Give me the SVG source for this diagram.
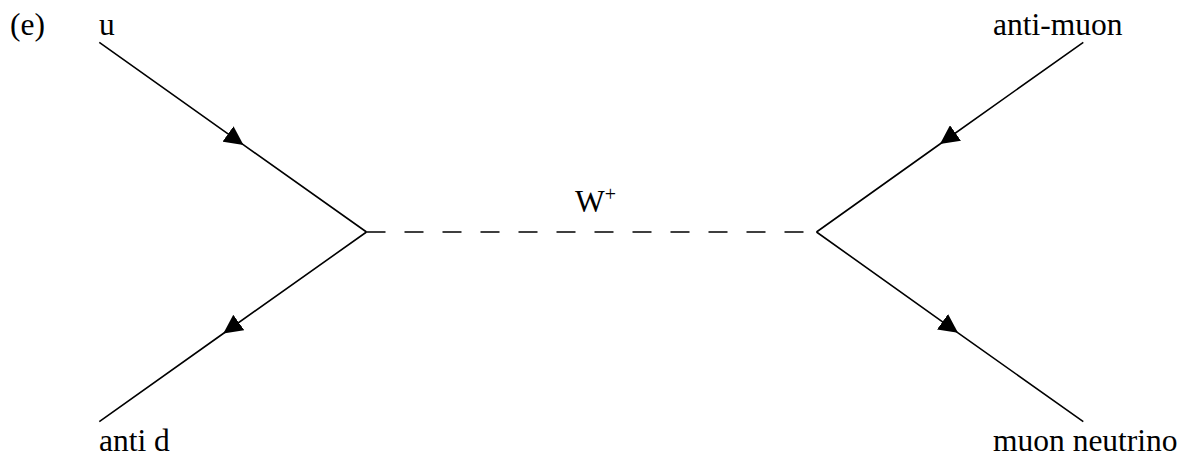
<svg xmlns="http://www.w3.org/2000/svg" width="1186" height="457" viewBox="0 0 1186 457">
<style>
.t{font-family:'Liberation Serif','Times New Roman',Times,serif;font-size:31.5px;fill:#000}
.f{fill:none;stroke:#000;stroke-width:1.6}
.w{fill:none;stroke:#000;stroke-width:1.6;stroke-dasharray:19 19}
</style>
<defs>
<marker id="arr" viewBox="0 0 19 19" refX="19" refY="9.5" markerWidth="19" markerHeight="19" markerUnits="userSpaceOnUse" orient="auto">
<path d="M0,0 L19,9.5 L0,19 z" fill="#000"/>
</marker>
</defs>
<text class="t" font-family="Liberation Serif, serif" x="10" y="35">(e)</text>
<g id="connectors">
<path class="f" d="M99.3,42.3 L243.5,144.9 L366.5,232" marker-mid="url(#arr)"/>
<path class="f" d="M366.5,232 L223.3,333.5 L99.3,421.7" marker-mid="url(#arr)"/>
<path class="f" d="M1083.3,42.3 L940,144 L816.5,232" marker-mid="url(#arr)"/>
<path class="f" d="M816.5,232 L958,332.8 L1083.3,421.7" marker-mid="url(#arr)"/>
<path class="w" d="M366.5,232 L816.5,232"/>
</g>
<g id="u"><text class="t" x="99" y="35">u</text></g>
<g id="antid"><text class="t" x="99" y="451">anti d</text></g>
<g id="antimuon"><text class="t" x="993" y="35">anti-muon</text></g>
<g id="neutrino"><text class="t" x="993" y="451">muon neutrino</text></g>
<g id="W"><text class="t" x="575" y="212">W<tspan font-size="20" dy="-11">+</tspan></text></g>
</svg>
